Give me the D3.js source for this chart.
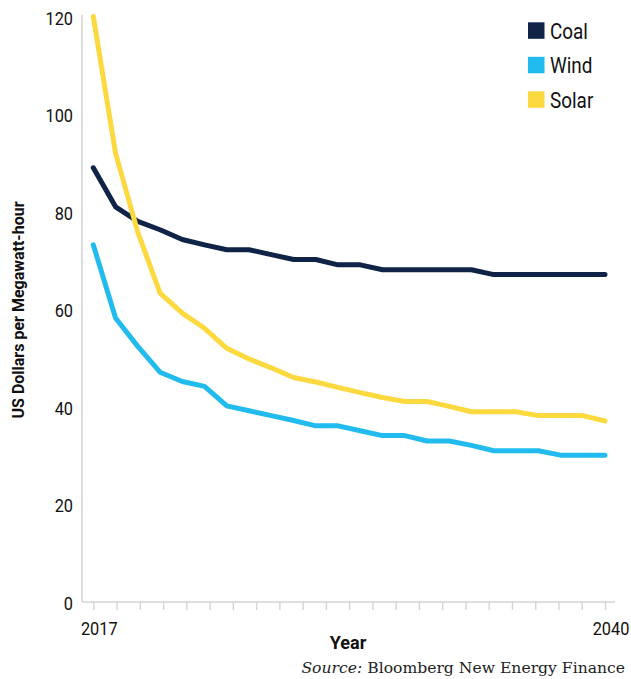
<!DOCTYPE html>
<html>
<head>
<meta charset="utf-8">
<script src="https://cdn.jsdelivr.net/npm/d3@7"></script>
<style>
  body { margin: 0; background: #fff; }
  svg { display: block; }
  .narrow { font-family: "Roboto", "Liberation Sans", sans-serif; }
</style>
</head>
<body>
<svg id="chart" width="631" height="679"></svg>
<script>
// levelized cost of electricity, US$ per MWh
let years = [2017, 2018, 2019, 2020, 2021, 2022, 2023, 2024, 2025, 2026, 2027, 2028,
             2029, 2030, 2031, 2032, 2033, 2034, 2035, 2036, 2037, 2038, 2039, 2040];
let coal  = [89, 81, 78, 76.3, 74.3, 73.2, 72.2, 72.2, 71.2, 70.2, 70.2, 69.1,
             69.1, 68.1, 68.1, 68.1, 68.1, 68.1, 67.1, 67.1, 67.1, 67.1, 67.1, 67.1];
let wind  = [73.2, 58.2, 52.4, 47.1, 45.2, 44.2, 40.2, 39.2, 38.2, 37.2, 36.1, 36.1,
             35.1, 34.1, 34.1, 33, 33, 32.1, 31, 31, 31, 30.1, 30.1, 30.1];
let solar = [120, 92, 75.8, 63.3, 59.2, 56.1, 52, 49.8, 48, 46, 45.1, 44,
             42.9, 41.9, 41.1, 41.1, 40.1, 39, 39, 39, 38.2, 38.2, 38.2, 37.1];
let seriesNames = ["Coal", "Wind", "Solar"];
let colors = ["#0e2346", "#21bbee", "#fdd940"];
let yTicks = [0, 20, 40, 60, 80, 100, 120];
let xTickLabels = ["2017", "2040"];

let svg = d3.select("#chart");
let squeeze = 0.86; // the original uses a condensed face

// scales
let x = d3.scaleLinear().domain([2017, 2040]).range([93.3, 605]);
let y = d3.scaleLinear().domain([0, 120]).range([602, 16.5]);

// y axis line
svg.append("line")
    .attr("x1", 82).attr("x2", 82)
    .attr("y1", 15).attr("y2", y(0))
    .attr("stroke", "#d4d4d4").attr("stroke-width", 1.6);

// y tick labels
svg.append("g").selectAll("text")
    .data(yTicks)
    .enter()
    .append("text")
    .attr("class", "narrow")
    .attr("transform", d => `translate(73,${y(d) + 8}) scale(${squeeze},1)`)
    .attr("text-anchor", "end")
    .style("font-size", "19px")
    .style("fill", "#111")
    .text(d => d);

// x axis: evenly spaced ticks, as in the original graphic
let tickPos = d3.range(23).map(i => 2017 + i * 23 / 22);
let xAxis = svg.append("g")
    .attr("transform", `translate(0,${y(0)})`)
    .call(d3.axisBottom(x).tickValues(tickPos).tickSize(8).tickFormat(""));
xAxis.select(".domain").remove();
xAxis.selectAll("line").attr("stroke", "#d4d4d4").attr("stroke-width", 1.4);
svg.append("line")
    .attr("x1", 82).attr("x2", 615)
    .attr("y1", y(0)).attr("y2", y(0))
    .attr("stroke", "#d4d4d4").attr("stroke-width", 1.6);

svg.append("g").selectAll("text")
    .data(xTickLabels)
    .enter()
    .append("text")
    .attr("class", "narrow")
    .attr("transform", d => `translate(${x(+d) + 6},635) scale(${squeeze},1)`)
    .attr("text-anchor", "middle")
    .style("font-size", "19px")
    .style("fill", "#111")
    .text(d => d);

// axis titles
svg.append("text")
    .attr("class", "narrow")
    .attr("transform", "translate(24,310) rotate(-90)")
    .attr("text-anchor", "middle")
    .style("font-size", "16px")
    .style("font-weight", "bold")
    .style("fill", "#111")
    .text("US Dollars per Megawatt-hour");

svg.append("text")
    .attr("class", "narrow")
    .attr("x", 348)
    .attr("y", 649)
    .attr("text-anchor", "middle")
    .style("font-size", "18px")
    .style("font-weight", "bold")
    .style("fill", "#111")
    .text("Year");

// source note
let src = svg.append("text")
    .attr("x", 625)
    .attr("y", 673)
    .attr("text-anchor", "end")
    .style("font-family", "'DejaVu Serif', 'Liberation Serif', serif")
    .style("font-size", "15.6px")
    .style("fill", "#222");
src.append("tspan").style("font-style", "italic").text("Source:");
src.append("tspan").text(" Bloomberg New Energy Finance");

// lines
let allSeries = [coal, wind, solar];
let line = d3.line()
    .x((d, i) => x(years[i]))
    .y(d => y(d));

svg.append("g").selectAll("path")
    .data(allSeries)
    .enter()
    .append("path")
    .attr("fill", "none")
    .attr("stroke", (d, i) => colors[i])
    .attr("stroke-width", 5)
    .attr("stroke-linejoin", "round")
    .attr("stroke-linecap", "round")
    .attr("d", line);

// legend
let legend = svg.append("g").selectAll("g")
    .data(seriesNames)
    .enter()
    .append("g")
    .attr("transform", (d, i) => `translate(528,${22.3 + i * 34.5})`);
legend.append("rect")
    .attr("width", 16.5).attr("height", 16.5)
    .attr("fill", (d, i) => colors[i]);
legend.append("text")
    .attr("class", "narrow")
    .attr("transform", `translate(22,16.5) scale(${squeeze},1)`)
    .style("font-size", "22px")
    .style("fill", "#111")
    .text(d => d);
</script>
</body>
</html>
